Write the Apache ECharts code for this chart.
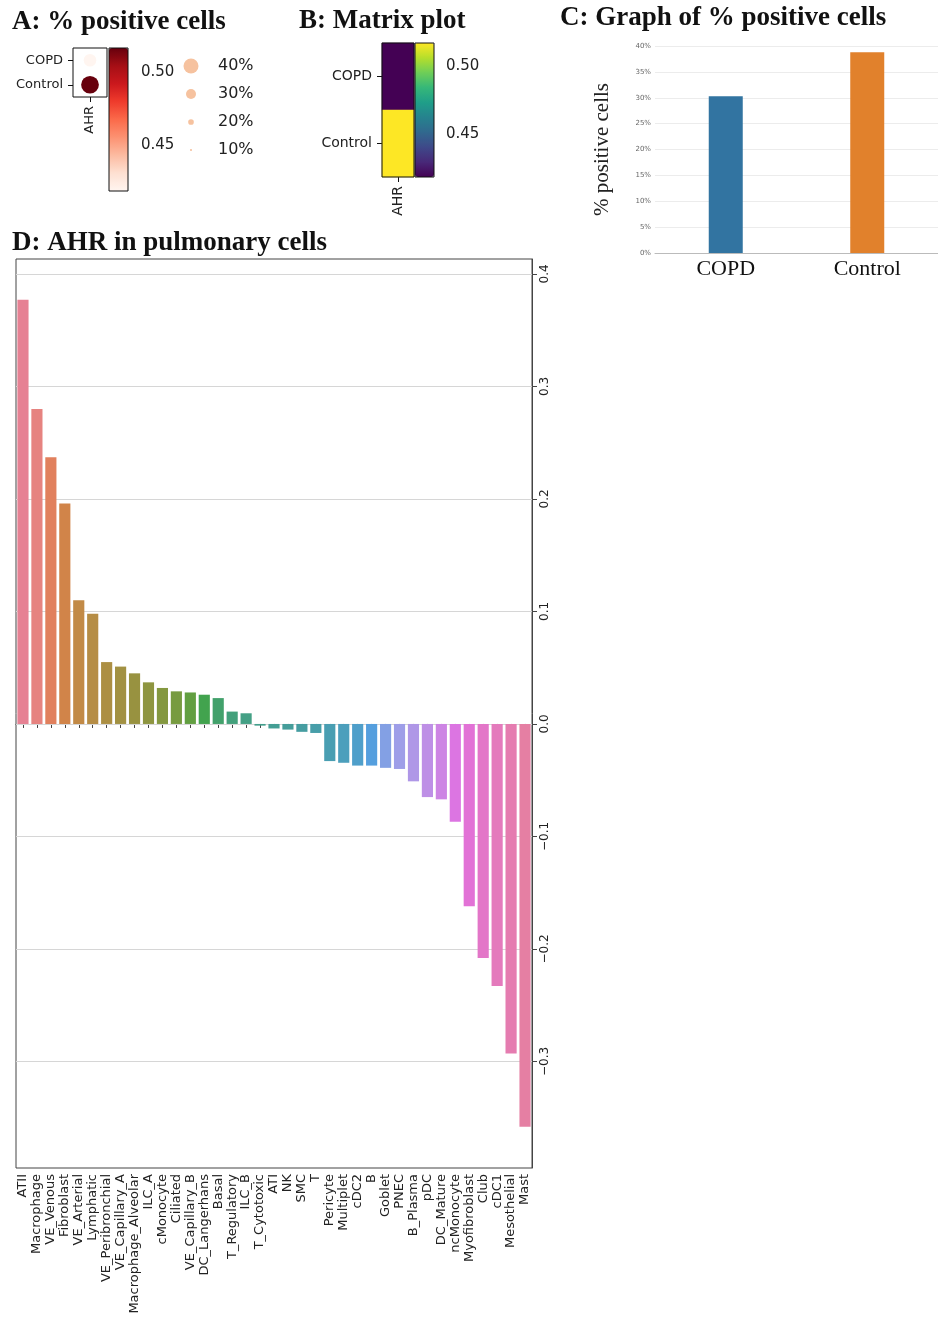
<!DOCTYPE html>
<html>
<head>
<meta charset="utf-8"/>
<title>AHR</title>
<script src="https://cdn.jsdelivr.net/npm/echarts@6/dist/echarts.min.js"></script>
<style>
html,body{margin:0;padding:0;background:#fff;}
#main{width:938px;height:1328px;}
</style>
</head>
<body>
<div id="main"></div>
<script type="text/javascript">
// A, B, C: AHR in COPD vs Control
var groups = ['COPD', 'Control'];
var genes = ['AHR'];
var meanExpr = [0.418, 0.517];
var pctPositive = [30.3, 38.8];
var exprTicks = [0.45, 0.50];
var sizeLegendPct = [10, 20, 30, 40];
var sizeLegendLabels = ['10%', '20%', '30%', '40%'];

// D: AHR in pulmonary cells
var cellTypes = ['ATII', 'Macrophage', 'VE_Venous', 'Fibroblast', 'VE_Arterial', 'Lymphatic',
  'VE_Peribronchial', 'VE_Capillary_A', 'Macrophage_Alveolar', 'ILC_A', 'cMonocyte', 'Ciliated',
  'VE_Capillary_B', 'DC_Langerhans', 'Basal', 'T_Regulatory', 'ILC_B', 'T_Cytotoxic', 'ATI', 'NK',
  'SMC', 'T', 'Pericyte', 'Multiplet', 'cDC2', 'B', 'Goblet', 'PNEC', 'B_Plasma', 'pDC',
  'DC_Mature', 'ncMonocyte', 'Myofibroblast', 'Club', 'cDC1', 'Mesothelial', 'Mast'];
var cellValues = [0.377, 0.280, 0.237, 0.196, 0.110, 0.098, 0.055, 0.051, 0.045, 0.037, 0.032, 0.029,
  0.028, 0.026, 0.023, 0.011, 0.0095, -0.0015, -0.004, -0.005, -0.007, -0.008, -0.033, -0.0345,
  -0.037, -0.037, -0.039, -0.040, -0.051, -0.065, -0.067, -0.087, -0.162, -0.208, -0.233, -0.293, -0.358];
var cellTicks = [0.4, 0.3, 0.2, 0.1, 0.0, -0.1, -0.2, -0.3];

var reds = ['#fff5f0', '#fee0d2', '#fcbba1', '#fc9272', '#fb6a4a', '#ef3b2c', '#cb181d', '#a50f15', '#67000d'];
var viridis = ['#440154', '#482878', '#3e4989', '#31688e', '#26828e', '#1f9e89', '#35b779', '#6ece58', '#b5de2b', '#fde725'];
var groupColors = ['#3274a1', '#e1812c'];

// seaborn husl palette + desaturate(0.75)
var M = [[3.240969941904521, -1.537383177570093, -0.498610760293],
  [-0.96924363628087, 1.87596750150772, 0.041555057407175],
  [0.055630079696993, -0.20397695888897, 1.056971514242878]];
var refU = 0.19783000664283, refV = 0.46831999493879, kappa = 903.2962962, eps = 0.0088564516;
function maxChroma(L, H) {
  var hrad = H / 180 * Math.PI, sub1 = Math.pow(L + 16, 3) / 1560896;
  var sub2 = sub1 > eps ? sub1 : L / kappa, best = Infinity;
  for (var c = 0; c < 3; c++) {
    var m1 = M[c][0], m2 = M[c][1], m3 = M[c][2];
    for (var t = 0; t < 2; t++) {
      var top1 = (284517 * m1 - 94839 * m3) * sub2;
      var top2 = (838422 * m3 + 769860 * m2 + 731718 * m1) * L * sub2 - 769860 * t * L;
      var bottom = (632260 * m3 - 126452 * m2) * sub2 + 126452 * t;
      var len = (top2 / bottom) / (Math.sin(hrad) - (top1 / bottom) * Math.cos(hrad));
      if (len >= 0 && len < best) best = len;
    }
  }
  return best;
}
function huslToRgb(H, S, L) {
  var C = maxChroma(L, H) / 100 * S, hrad = H / 180 * Math.PI;
  var varU = C * Math.cos(hrad) / (13 * L) + refU, varV = C * Math.sin(hrad) / (13 * L) + refV;
  var Y = L <= 8 ? L / kappa : Math.pow((L + 16) / 116, 3);
  var X = -(9 * Y * varU) / ((varU - 4) * varV - varU * varV);
  var Z = (9 * Y - 15 * varV * Y - varV * X) / (3 * varV);
  return M.map(function (r) {
    var c = r[0] * X + r[1] * Y + r[2] * Z;
    c = c <= 0.0031308 ? 12.92 * c : 1.055 * Math.pow(c, 1 / 2.4) - 0.055;
    return Math.min(1, Math.max(0, c));
  });
}
function desaturate(rgb, p) {
  var r = rgb[0], g = rgb[1], b = rgb[2];
  var mx = Math.max(r, g, b), mn = Math.min(r, g, b), l = (mx + mn) / 2, h = 0, s = 0;
  if (mx !== mn) {
    var d = mx - mn;
    s = l <= 0.5 ? d / (mx + mn) : d / (2 - mx - mn);
    var rc = (mx - r) / d, gc = (mx - g) / d, bc = (mx - b) / d;
    h = r === mx ? bc - gc : (g === mx ? 2 + rc - bc : 4 + gc - rc);
    h = ((h / 6) % 1 + 1) % 1;
  }
  s *= p;
  if (s === 0) return [l, l, l];
  var m2 = l <= 0.5 ? l * (1 + s) : l + s - l * s, m1 = 2 * l - m2;
  function v(hh) {
    hh = ((hh % 1) + 1) % 1;
    if (hh < 1 / 6) return m1 + (m2 - m1) * hh * 6;
    if (hh < 0.5) return m2;
    if (hh < 2 / 3) return m1 + (m2 - m1) * (2 / 3 - hh) * 6;
    return m1;
  }
  return [v(h + 1 / 3), v(h), v(h - 1 / 3)];
}
function toCss(rgb) {
  return 'rgb(' + rgb.map(function (c) { return Math.round(c * 255); }).join(',') + ')';
}
var cellColors = cellTypes.map(function (n, i) {
  var h = ((i / cellTypes.length + 0.01) % 1) * 359;
  return toCss(desaturate(huslToRgb(h, 90 * 0.99, 65 * 0.99), 0.75));
});

var sans = 'DejaVu Sans';
var serif = 'Liberation Serif';
var titleStyle = { fontFamily: serif, fontWeight: 'bold', fontSize: 27, color: '#111' };

var dotData = groups.map(function (g, i) { return [0, i, meanExpr[i], pctPositive[i]]; });
var heatData = groups.map(function (g, i) { return [0, i, meanExpr[i]]; });

var myChart = echarts.init(document.getElementById('main'));
var option = {
  animation: false,
  backgroundColor: '#fff',
  title: [
    { text: 'A: % positive cells', left: 12, top: 9, padding: 0, textStyle: titleStyle },
    { text: 'B: Matrix plot', left: 299, top: 8, padding: 0, textStyle: titleStyle },
    { text: 'C: Graph of % positive cells', left: 560, top: 5, padding: 0, textStyle: titleStyle },
    { text: 'D: AHR in pulmonary cells', left: 12, top: 230, padding: 0, textStyle: titleStyle }
  ],
  visualMap: [
    {
      type: 'continuous', seriesIndex: 0, dimension: 2, min: meanExpr[0], max: meanExpr[1],
      inRange: { color: reds }, left: 109, top: 48, itemWidth: 19, itemHeight: 143,
      calculable: false, hoverLink: false, padding: 0, text: null, show: true
    },
    {
      type: 'continuous', seriesIndex: 2, dimension: 2, min: meanExpr[0], max: meanExpr[1],
      inRange: { color: viridis }, left: 415, top: 43, itemWidth: 19, itemHeight: 134,
      calculable: false, hoverLink: false, padding: 0, text: null, show: true
    }
  ],
  grid: [
    { left: 73, top: 48, width: 34, height: 49, show: true, borderColor: '#111', borderWidth: 1, backgroundColor: 'transparent' },
    { left: 109, top: 48, width: 19, height: 143, show: true, borderColor: '#111', borderWidth: 1, backgroundColor: 'transparent', z: 10 },
    { left: 181, top: 52, width: 20, height: 112 },
    { left: 382, top: 43, width: 32, height: 134, show: true, borderColor: '#111', borderWidth: 1, backgroundColor: 'transparent', z: 10 },
    { left: 415, top: 43, width: 19, height: 134, show: true, borderColor: '#111', borderWidth: 1, backgroundColor: 'transparent', z: 10 },
    { left: 655, top: 46, width: 285, height: 207 },
    { left: 16, top: 259, width: 516, height: 909, show: true, borderColor: '#444', borderWidth: 1, backgroundColor: 'transparent' }
  ],
  xAxis: [
    {
      gridIndex: 0, type: 'category', data: genes,
      axisLine: { show: false }, axisTick: { show: true, alignWithLabel: true, length: 5, lineStyle: { color: '#111' } },
      axisLabel: { rotate: 90, fontFamily: sans, fontSize: 13, color: '#222', margin: 9 }
    },
    { gridIndex: 1, type: 'value', show: false },
    { gridIndex: 2, type: 'category', data: [''], show: false },
    {
      gridIndex: 3, type: 'category', data: genes,
      axisLine: { show: false }, axisTick: { show: true, alignWithLabel: true, length: 5, lineStyle: { color: '#111' } },
      axisLabel: { rotate: 90, fontFamily: sans, fontSize: 14, color: '#222', margin: 9 }
    },
    { gridIndex: 4, type: 'value', show: false },
    {
      gridIndex: 5, type: 'category', data: groups,
      axisLine: { show: true, lineStyle: { color: '#bbb' } }, axisTick: { show: false },
      axisLabel: { fontFamily: serif, fontSize: 22, color: '#111', margin: 5 }
    },
    {
      gridIndex: 6, type: 'category', data: cellTypes,
      axisLine: { show: true, lineStyle: { color: '#444' } },
      axisTick: { show: true, alignWithLabel: true, length: 4, interval: 0, lineStyle: { color: '#444' } },
      axisLabel: { rotate: 90, interval: 0, fontFamily: sans, fontSize: 13, color: '#222', margin: 6 }
    }
  ],
  yAxis: [
    {
      gridIndex: 0, type: 'category', data: groups, inverse: true,
      axisLine: { show: false }, axisTick: { show: true, alignWithLabel: true, length: 5, lineStyle: { color: '#111' } },
      axisLabel: { fontFamily: sans, fontSize: 13, color: '#222', margin: 10 }
    },
    {
      gridIndex: 1, type: 'value', min: meanExpr[0], max: meanExpr[1], position: 'right',
      axisLine: { show: false }, splitLine: { show: false },
      axisTick: { show: true, customValues: exprTicks, length: 5, lineStyle: { color: '#111' } },
      axisLabel: { customValues: exprTicks, fontFamily: sans, fontSize: 15, color: '#222', margin: 13,
        formatter: function (v) { return v.toFixed(2); } }
    },
    {
      gridIndex: 2, type: 'category', data: sizeLegendLabels, position: 'right',
      axisLine: { show: false }, axisTick: { show: false },
      axisLabel: { fontFamily: sans, fontSize: 16, color: '#222', margin: 17 }
    },
    {
      gridIndex: 3, type: 'category', data: groups, inverse: true,
      axisLine: { show: false }, axisTick: { show: true, alignWithLabel: true, length: 5, lineStyle: { color: '#111' } },
      axisLabel: { fontFamily: sans, fontSize: 14, color: '#222', margin: 10 }
    },
    {
      gridIndex: 4, type: 'value', min: meanExpr[0], max: meanExpr[1], position: 'right',
      axisLine: { show: false }, splitLine: { show: false },
      axisTick: { show: true, customValues: exprTicks, length: 5, lineStyle: { color: '#111' } },
      axisLabel: { customValues: exprTicks, fontFamily: sans, fontSize: 15, color: '#222', margin: 12,
        formatter: function (v) { return v.toFixed(2); } }
    },
    {
      gridIndex: 5, type: 'value', min: 0, max: 40, interval: 5,
      name: '% positive cells', nameLocation: 'middle', nameGap: 42,
      nameTextStyle: { fontFamily: serif, fontSize: 21, color: '#222' },
      axisLine: { show: false }, axisTick: { show: false },
      splitLine: { show: true, lineStyle: { color: '#ececec' } },
      axisLabel: { fontFamily: sans, fontSize: 7, color: '#666', margin: 4, formatter: '{value}%' }
    },
    {
      gridIndex: 6, type: 'value', min: -0.3947, max: 0.4133, position: 'right',
      axisLine: { show: true, lineStyle: { color: '#444' } }, splitLine: { show: false },
      axisTick: { show: true, customValues: cellTicks, length: 5, lineStyle: { color: '#444' } },
      axisLabel: { customValues: cellTicks, rotate: 90, fontFamily: sans, fontSize: 12, color: '#222', margin: 7,
        formatter: function (v) { return (v < 0 ? '\u2212' : '') + Math.abs(v).toFixed(1); } }
    }
  ],
  series: [
    {
      type: 'scatter', xAxisIndex: 0, yAxisIndex: 0, data: dotData,
      symbolSize: function (v) { return 18.5 * Math.pow(v[3] / 40, 1.4); },
      itemStyle: { opacity: 1 }
    },
    {
      type: 'scatter', xAxisIndex: 2, yAxisIndex: 2,
      data: sizeLegendPct.map(function (p, i) { return [0, i, p]; }),
      symbolSize: function (v) { return 15 * Math.pow(v[2] / 40, 1.4); },
      itemStyle: { color: '#f6c29f', opacity: 1 }
    },
    { type: 'heatmap', xAxisIndex: 3, yAxisIndex: 3, data: heatData },
    {
      type: 'bar', xAxisIndex: 5, yAxisIndex: 5, data: pctPositive, barWidth: 34,
      itemStyle: { color: function (p) { return groupColors[p.dataIndex]; } }
    },
    {
      type: 'line', xAxisIndex: 6, yAxisIndex: 6, data: [], z: 1, silent: true,
      markLine: {
        silent: true, symbol: 'none', z: 1, label: { show: false },
        lineStyle: { color: '#d6d6d6', width: 1, type: 'solid' },
        data: cellTicks.map(function (v) { return { yAxis: v }; })
      }
    },
    {
      type: 'bar', xAxisIndex: 6, yAxisIndex: 6, data: cellValues, z: 2, barCategoryGap: '20%',
      itemStyle: { color: function (p) { return cellColors[p.dataIndex]; } }
    }
  ]
};
myChart.setOption(option);
</script>
</body>
</html>
